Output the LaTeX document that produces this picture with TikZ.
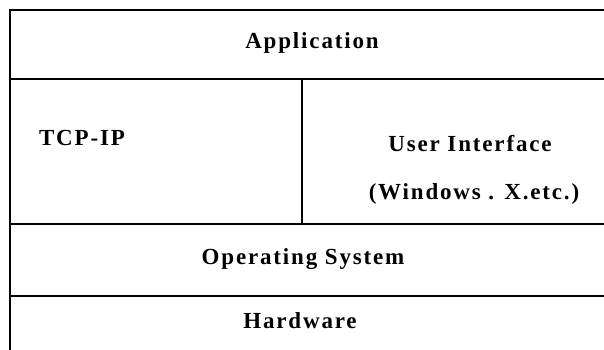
\documentclass[tikz,border=0pt]{standalone}
\usepackage{fontspec}
\setmainfont{Liberation Serif}[LetterSpace=8]
\begin{document}
\begin{tikzpicture}[x=1pt,y=-1pt,
    layer/.style={font=\fontsize{23}{26}\selectfont\bfseries, inner sep=0pt},
    rule/.style={line width=1.6pt}]
      \useasboundingbox (0,0) rectangle (604,350);
      \begin{scope}
        \clip (0,0) rectangle (604,350);
        \draw[rule] (604,10)--(10,10)--(10,350);
        \draw[rule] (10,79)--(604,79);
        \draw[rule] (10,224)--(604,224);
        \draw[rule] (10,296)--(604,296);
        \draw[rule] (302,79)--(302,224);
      \end{scope}

      \node[layer] (app) at (312,43) {Application};
      \node[layer] (tcp) at (82,138) {TCP-IP};
      \node[layer] (ui) at (470,144) {User Interface};
      \node[layer] (win) at (474,194) {(Windows . X.etc.)};
      \node[layer] (os) at (303,259) {Operating System};
      \node[layer] (hw) at (300,321) {Hardware};
    \end{tikzpicture}
\end{document}
